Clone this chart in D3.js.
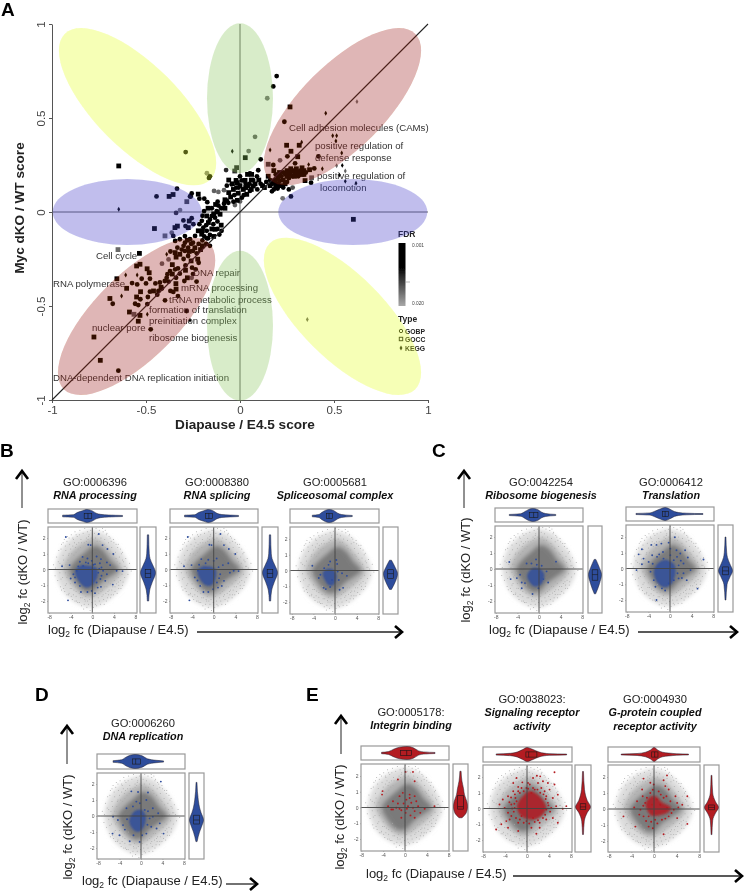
<!DOCTYPE html>
<html>
<head>
<meta charset="utf-8">
<script src="https://cdn.jsdelivr.net/npm/d3@7/dist/d3.min.js"></script>
<style>
  html, body { margin: 0; padding: 0; background: #fff; }
  svg { display: block; font-family: "Liberation Sans", Arial, sans-serif; }
</style>
</head>
<body>
<svg id="fig" width="744" height="892"></svg>
<script>
// panel A, score pairs [x, y, fdr]; fdr left out means the darkest colour
const gobpPoints = [
  [0.195,0.723],[0.177,0.668],[0.145,0.605,0.014],[0.236,0.48],[0.08,0.4,0.012],[0.046,0.324,0.013],
  [0.11,0.28],[-0.074,0.223,0.006],[-0.289,0.319,0.003],[-0.176,0.206,0.015],[-0.165,0.181],
  [0.252,0.296],[0.417,0.296],[0.213,0.275,0.012],[0.293,0.259],[0.177,0.25],[0.395,0.232],
  [0.378,0.156],[0.271,0.083],[0.227,0.073,0.014],[-0.444,0.083],[-0.335,0.124],[-0.266,0.083],
  [-0.34,-0.005,0.006],[-0.319,0.01,0.014],[-0.257,-0.033],[-0.301,-0.045],[-0.29,-0.075],
  [-0.248,-0.065],[-0.216,-0.065],[-0.363,-0.11,0.012],[-0.355,-0.127],
  [-0.138,0.112,0.012],[-0.115,0.107,0.013],[-0.085,0.116,0.012],[-0.027,0.037,0.012],[0,0.056,0.012],
  [-0.257,0.099],[-0.262,0.082],[-0.216,0.071],[-0.19,0.071],[-0.174,0.052],[-0.119,0.055],
  [-0.115,0.034],[-0.085,0.044],[-0.062,0.049],[-0.035,0.055],[0.01,0.076],[0.053,0.112],
  [0.092,0.12],[-0.044,0.147],[0.01,0.168],[0.053,0.205],[0.097,0.222],[-0.008,0.13],[0.044,0.138],
  [-0.191,0.005],[-0.15,-0.021],[-0.203,-0.047],[-0.124,0.005],[-0.133,-0.03],[-0.142,-0.065],
  [-0.195,-0.083],[-0.177,-0.1],[-0.098,-0.1],[-0.16,-0.122],[-0.239,-0.127],
  [-0.16,0.19],[0.17,0.15],[0.19,0.2],[0.22,0.19],[0.24,0.2],[0.27,0.2],[0.29,0.21],[0.32,0.22],
  [0.35,0.21],[0.16,0.17],[0.19,0.145],[0.21,0.165],[0.23,0.13],[0.25,0.16],[0.14,0.16],[0.31,0.19],
  [0.26,0.18],[0.2,0.125],[0.17,0.11],[0.26,0.12],[0.28,0.13,0.01],
  [-0.2,-0.02],[-0.15,0.02],[-0.1,0.02],[-0.07,0.06],[-0.03,0.09],[0.02,0.09],[0.05,0.15],[0.07,0.17],
  [0.09,0.19],[0.11,0.15],[0.03,0.15],[-0.02,0.13],[-0.07,0.14],[0,0.19],[-0.16,-0.04],[-0.12,-0.05],
  [-0.12,-0.09],[-0.18,-0.07],[-0.11,-0.12],[-0.17,-0.14],[-0.19,-0.13],[0.19,0.17],[0.23,0.21],[0.27,0.22],
  [0.21,0.14],[0.18,0.12],[0.32,0.2],[0.28,0.19],
  [-0.3,-0.18],[-0.26,-0.17],[-0.22,-0.17],[-0.18,-0.17],[-0.23,-0.22],[-0.31,-0.2],[-0.3,-0.25],[-0.22,-0.27],
  [-0.33,-0.3],[-0.25,-0.33],[-0.34,-0.35],[-0.38,-0.37],[-0.44,-0.44],[-0.37,-0.42],
  [-0.574,-0.378],[-0.547,-0.385],[-0.523,-0.355],[-0.5,-0.38],[-0.479,-0.355],[-0.677,-0.488],
  [-0.53,-0.464],[-0.558,-0.488],[-0.541,-0.495],[-0.493,-0.49],[-0.479,-0.424],[-0.49,-0.452],
  [-0.475,-0.624],[-0.647,-0.844],[-0.45,-0.38],[-0.426,-0.375],[-0.4,-0.367],[-0.386,-0.331],
  [-0.372,-0.314],[-0.434,-0.42],[-0.416,-0.407],[-0.39,-0.35],[-0.345,-0.305],[-0.32,-0.328],
  [-0.355,-0.425],[-0.33,-0.447],[-0.399,-0.47],[-0.284,-0.527],[-0.257,-0.35,0.012],[-0.231,-0.37],
  [-0.296,-0.367],[-0.255,-0.296],[-0.29,-0.284],[-0.236,-0.305],[-0.293,-0.207],[-0.333,-0.19],
  [-0.276,-0.19],[-0.25,-0.207],[-0.276,-0.234],[-0.2,-0.151],[-0.25,-0.163],[-0.176,-0.14],
  [-0.16,-0.18],[-0.293,-0.163],[-0.415,-0.275,0.012],[-0.38,-0.252,0.012],[-0.37,-0.21],
  [-0.345,-0.154],[-0.32,-0.145],[-0.293,-0.128],[-0.266,-0.145]
];
const goccPoints = [
  [0.266,0.559],[0.028,0.289],[-0.018,0.236,0.005],[-0.645,0.245],[0.248,0.355],[0.315,0.355],
  [0.271,0.323],[0.307,0.294],[0.15,0.254,0.008],[0.346,0.167],[0.381,0.182,0.012],[0.603,-0.039],
  [-0.283,0.055,0.009],[-0.377,0.083],[-0.356,0.093],[-0.27,-0.048],[-0.333,-0.075],[-0.275,-0.083],
  [-0.346,-0.083],[-0.455,-0.088],[-0.399,-0.127,0.012],
  [-0.222,0.095],[-0.08,0.065],[-0.014,0.062],[0.036,0.094],[0.071,0.138],[-0.014,0.156],[0.027,0.168],
  [0.062,0.2],[-0.021,0.168],[0.018,0.12],[-0.035,0.12],[-0.06,0.103],[-0.028,0.218,0.006],
  [-0.177,-0.021],[-0.106,-0.012],[-0.168,-0.056],[-0.222,-0.1],[-0.133,-0.092],[-0.204,-0.118],
  [0.18,0.22],[0.2,0.18],[0.21,0.21],[0.23,0.17],[0.25,0.22],[0.26,0.21],[0.28,0.22],[0.3,0.23],
  [0.31,0.21],[0.34,0.22],[0.33,0.2],[0.37,0.225],[0.18,0.165],[0.2,0.15],[0.22,0.14],[0.24,0.15],
  [0.15,0.19],[0.13,0.13],[0.27,0.23],[0.29,0.19],[0.33,0.235],
  [-0.17,0.02],[-0.13,0.04],[-0.08,0.02],[-0.05,0.08],[-0.01,0.1],[0.03,0.13],[0.06,0.12],[0.08,0.15],
  [0.1,0.17],[0.12,0.14],[0.06,0.17],[0,0.14],[-0.04,0.15],[-0.06,0.17],[0.04,0.2],[-0.14,-0.01],
  [-0.1,-0.07],[-0.15,-0.09],[-0.2,-0.1],[-0.14,-0.13],[-0.12,0],[0.21,0.19],[0.25,0.19],[0.19,0.13],
  [0.16,0.14],[0.3,0.2],[0.34,0.2],
  [-0.28,-0.15],[-0.24,-0.19],[-0.2,-0.18],[-0.27,-0.21],[-0.21,-0.2],[-0.34,-0.24],[-0.26,-0.26],[-0.36,-0.28],
  [-0.29,-0.31],[-0.28,-0.35],[-0.36,-0.33],[-0.42,-0.4],[-0.46,-0.42],[-0.34,-0.41],
  [-0.649,-0.2,0.013],[-0.535,-0.22],[-0.55,-0.287],[-0.532,-0.278],[-0.655,-0.355],[-0.494,-0.302],
  [-0.483,-0.323],[-0.603,-0.406],[-0.692,-0.46],[-0.529,-0.424],[-0.55,-0.452],[-0.588,-0.532],
  [-0.532,-0.55],[-0.564,-0.544,0.011],[-0.541,-0.581],[-0.777,-0.665],[-0.743,-0.789],
  [-0.341,-0.381],[-0.345,-0.216],[-0.32,-0.225],[-0.225,-0.251]
];
const keggPoints = [
  [-0.041,0.323],[0.622,0.587,0.014],[0.456,0.525],[0.493,0.406],[0.514,0.406],[0.51,0.378],[0.16,0.33],
  [0.328,0.371],[0.541,0.314],[0.365,0.252],[0.438,0.23],[0.514,0.246,0.013],[0.544,0.248],
  [0.56,0.218,0.012],[0.528,0.197],[0.617,0.153],[0.56,0.163],[-0.645,0.015],[-0.608,-0.335],
  [-0.547,-0.335],[-0.63,-0.447],[-0.493,-0.544],[-0.266,-0.576],[-0.39,-0.225],[0.358,-0.572,0.012]
];

// shared grey cloud of the small scatter panels, log2 fc pairs
const cloudOuter = [[-6.8,0.1],[-6,1.1],[-4.6,1.75],[-2.5,2.25],[0,2.5],[2.5,2.2],[4.6,1.5],[6,0.8],[6.8,-0.1],[6,-0.9],[4.5,-1.5],[2.5,-2.05],[0,-2.4],[-2.5,-2.2],[-4.6,-1.7],[-6,-1]];
const cloudMid = [[-5.4,0.05],[-4.6,0.75],[-3.2,1.35],[-1.5,1.75],[0.3,2],[2,1.7],[3.7,1.05],[5.2,0.3],[5.6,-0.1],[4.5,-0.65],[3,-1.1],[1.2,-1.55],[-0.5,-1.8],[-2.2,-1.55],[-3.8,-1]];
const cloudCore = [[-4.2,0],[-3,0.6],[-1.5,1.05],[0.3,1.5],[1.9,1.25],[3.3,0.6],[4.8,0],[3.3,-0.45],[1.6,-0.85],[0,-1.4],[-1.4,-1.4],[-3,-0.85]];
const cloudSpecks = [
  [-7.2,0.3],[-6.9,-0.4],[-6.6,0.8],[-6.4,-0.7],[-6.2,1.2],[-6,0.4],[-5.9,-1.1],[-5.7,1.6],[-5.5,-0.5],[-5.4,0.9],
  [-5.2,1.9],[-5.1,-1.4],[-4.9,1.2],[-4.8,-0.9],[-4.6,2.1],[-4.5,0.6],[-4.4,-1.6],[-4.2,1.6],[-4.1,-1.2],[-3.9,2.2],
  [-3.8,1],[-3.7,-1.9],[-3.5,1.9],[-3.4,-1.3],[-3.2,2.4],[-3.1,1.4],[-3,-1.7],[-2.8,2.1],[-2.7,-2.1],[-2.5,1.7],
  [-2.4,-1.5],[-2.3,2.5],[-2.1,1.9],[-2,-2.3],[-1.9,-1.8],[-1.7,2.3],[-1.6,-2.5],[-1.4,2.6],[-1.3,-2],[-1.1,2],
  [-1,-2.4],[-0.9,2.4],[-0.7,-2.2],[-0.6,2.2],[-0.4,-2.6],[-0.3,2.5],[-0.1,-2.1],[0.1,2.7],[0.2,-2.4],[0.4,2.3],
  [0.5,-2],[0.7,2.6],[0.8,-2.3],[1,2.2],[1.1,-1.8],[1.3,2.5],[1.5,-2.2],[1.6,2],[1.8,-1.7],[2,2.4],
  [2.1,-1.9],[2.3,1.9],[2.5,-1.5],[2.6,2.2],[2.8,-1.8],[3,1.7],[3.1,-1.3],[3.3,2],[3.5,-1.6],[3.6,1.4],
  [3.8,-1.1],[4,1.7],[4.2,-1.4],[4.3,1.1],[4.5,-0.9],[4.7,1.4],[4.9,-1.2],[5,0.8],[5.2,-0.7],[5.4,1],
  [5.6,-1],[5.8,0.5],[6,-0.5],[6.2,0.7],[6.4,0.1],[6.6,-0.3],[6.9,0.4],[7.2,-0.1],[-6.8,0.1],[-6,-0.2],
  [-5.6,0.3],[-5,-0.2],[-4.7,-0.5],[-4.3,1],[-4,-0.9],[-3.6,1.5],[-3.3,-0.9],[-3,1.1],[-2.6,-1.2],[-2.2,1.4],
  [-1.8,-1.5],[-1.5,1.7],[-1.2,-1.7],[-0.8,1.9],[-0.5,-1.9],[-0.2,2],[0.3,-1.7],[0.6,2],[1.2,-1.5],[1.4,1.8],
  [1.9,-1.3],[2.2,1.6],[2.7,-1.1],[2.9,1.3],[3.4,-0.9],[3.7,1],[4.1,-0.7],[4.4,0.7],[4.8,-0.5],[5.1,0.4],
  [5.5,-0.3],[5.9,0.2],[-5.3,0.6],[-4.9,0.3],[-4.5,-0.4],[-4.2,-0.2],[-3.9,0.5],[-3.7,-0.7],[-3.4,0.9],[-3.1,-1.1],
  [-2.9,1.6],[-2.6,1.3],[-2.3,-1],[-2,1.7],[-1.7,-1.3],[-1.4,-1.9],[-1.1,1.8],[-0.7,2.1],[-0.3,-1.6],[0.1,1.9],
  [0.4,-1.5],[0.9,1.8],[1.6,-1.4],[1.7,1.5],[2.3,-1.1],[2.4,1.4],[3,-0.8],[3.2,1],[3.9,0.9],[4.6,0.5],
  [-5.8,1.3],[-5.4,1.7],[-5,1.5],[-4.7,1.8],[-4.3,2],[-4,1.3],[-3.6,2],[-3.3,1.7],[-3,2.2],[-2.4,2.2],
  [-5.7,-1.3],[-5.3,-1.2],[-5,-1],[-4.7,-1.6],[-4.3,-1.5],[-3.9,-1.7],[-3.5,-1.6],[-3.2,-2],[-2.9,-2],[-2.4,-2.1],
  [5.6,1.1],[5.2,1.3],[4.8,1.6],[4.4,1.6],[3.9,1.9],[3.5,1.8],[3.1,2.1],[2.7,2.3],[2.4,2.5],[1.9,2.6],
  [5.7,-0.8],[5.3,-1.2],[4.9,-1],[4.6,-1.5],[4.2,-1.1],[3.9,-1.6],[3.4,-1.8],[3,-1.6],[2.6,-2],[2.2,-2.2],
  [-6.3,0.5],[-5.8,-0.6],[-5.2,0.1],[-4.6,0.3],[-4.4,0.9],[-3.8,-1.2],[-3,-1.4],[-2.2,-1.8],[-1.5,-2.2],[-0.9,-2],
  [6.1,0.2],[5.6,0.6],[5.3,0.1],[4.8,-0.8],[4.4,-0.4],[3.6,-1.3],[2.9,-1.4],[2,-1.6],[1.3,-2],[0.6,-2.2]
];

// panel B
const rnaProcessingPts = [[-4.9,2.06],[1.2,2.25],[-0.75,1.57],[-0.3,1.55],[1.9,1.55],[2.8,1.3],[3.9,0.98],[-1.8,0.8],[-0.9,0.7],[0.8,0.83],[1.6,0.66],[-2.3,0.49],[-5.6,0.21],[-4.2,0.28],[3.3,0.28],[2.7,0.45],[1.4,0.4],[0.5,0.34],[5.6,-0.1],[4.5,-0.08],[3.8,-0.96],[-4,-0.57],[-4.5,-1.96],[-2.1,-1.43],[-0.9,-1.43],[1,-1.15],[1.6,-1.1],[0.8,-0.83],[2.4,-0.72],[1.7,-0.4],[2.7,-0.3],[-3.2,-0.83],[-2.3,-1.04],[-0.1,-1.36],[0.5,-1.5],[1.1,-0.2],[2,-0.08],[-0.75,0.4],[-2.9,-0.08],[-3.5,-0.3],[1.7,0.13],[-1.7,0.23],[-0.1,0.55],[-2.6,0.2],[-1.2,0.45],[0.2,0.3],[1.3,0.05],[1.5,-0.6],[-3.2,-0.5]];
const rnaProcessingCore = [[-3.2,-0.1],[-2.2,0.25],[-0.8,0.25],[0.8,0.1],[1,-0.4],[0,-1],[-1.2,-1.15],[-2.4,-0.8]];
const rnaProcessingTop = [[-5.5,0.05],[-3.5,0.1],[-2.8,0.4],[-1.8,0.75],[-1,1],[0,0.7],[0.7,0.3],[1.5,0.14],[3,0.07],[5.6,0.03]];
const rnaProcessingRight = [[-2,0.03],[-1.3,0.12],[-0.8,0.45],[-0.2,1],[0.3,0.5],[0.7,0.15],[1,0.08],[2.2,0.03]];
const rnaProcessingBoxes = [[-1.5,-0.8,-0.1],[-0.5,-0.25,0]];

const rnaSplicingPts = [[-4.8,2.06],[1.25,2.25],[-0.8,1.57],[-0.4,1.55],[1.9,1.55],[2.8,1.3],[4,0.98],[-2.3,0.66],[-1,0.62],[0.55,0.7],[-5.5,0.21],[-4.1,0.28],[1.7,0.28],[2.7,0.4],[4.6,-0.1],[3.7,-0.08],[-4.5,-1.96],[-1.9,-1.43],[-1,-1.43],[0.8,-1.15],[1.5,-1.04],[0.6,-0.83],[1.9,-0.72],[-3.5,-0.5],[-2.5,-1.04],[-0.1,-1.25],[1.2,-0.3],[3,-0.2],[-2.9,-0.08],[0,0.55],[-2.7,0.3],[-1.5,0.4],[0.9,0.15],[1,-0.55],[-3,-0.7]];
const rnaSplicingCore = [[-3,-0.1],[-2,0.2],[-0.8,0.2],[0.4,0],[0.4,-0.5],[-0.4,-1],[-1.5,-1],[-2.4,-0.7]];
const rnaSplicingTop = [[-5.4,0.05],[-3.5,0.1],[-2.8,0.4],[-1.8,0.75],[-1,1],[0,0.65],[0.6,0.28],[1.5,0.12],[3,0.06],[4.6,0.03]];
const rnaSplicingRight = [[-2,0.03],[-1.3,0.12],[-0.8,0.45],[-0.2,1],[0.3,0.5],[0.7,0.15],[1,0.08],[2.2,0.03]];
const rnaSplicingBoxes = [[-1.5,-0.9,-0.2],[-0.5,-0.25,0]];

const spliceosomePts = [[-4.2,0.3],[-0.9,0.57],[0.4,0.42],[0.25,0.67],[-2,0.15],[-2.7,-0.27],[-3,-0.48],[-2.1,-1.1],[-1.7,-1.18],[-0.9,-1.05],[0.85,-1.22],[1.5,-1.1],[0.7,-0.6],[1.3,-0.17],[2.2,-0.34],[0.5,-0.06],[-1.2,0.36],[-0.55,-0.6]];
const spliceosomeCore = [[-2.3,-0.15],[-1.4,0.1],[-0.3,0.05],[0.3,-0.3],[-0.2,-0.9],[-1.1,-0.95],[-1.9,-0.6]];
const spliceosomeTop = [[-4.2,0.05],[-3,0.12],[-2.4,0.45],[-1.8,0.8],[-1.1,1],[-0.2,0.75],[0.5,0.3],[1.2,0.12],[3.2,0.03]];
const spliceosomeRight = [[-1.2,0.06],[-0.7,0.6],[-0.2,1],[0.2,0.55],[0.65,0.06]];
const spliceosomeBoxes = [[-1.6,-1.1,-0.5],[-0.5,-0.2,0.05]];

// panel C
const ribosomePts = [[-5.5,0.44],[-5.25,-0.63],[-3.2,-1.2],[-1.2,-1.56],[3.15,0.46],[-0.55,0.6],[-2.3,0.34],[-1.4,0.34],[0.5,0.2],[1.4,-0.15],[1.7,-0.84],[-0.1,-1.2],[-4.1,-0.57],[-3.2,-0.84],[0.8,-0.63],[-3.5,-0.36],[-0.4,0.27],[-2.6,-0.88]];
const ribosomeCore = [[-2.2,-0.4],[-1.2,0.05],[0.2,0],[1,-0.35],[0.4,-0.95],[-0.8,-1.1],[-1.8,-0.8]];
const ribosomeTop = [[-5.5,0.03],[-3.4,0.1],[-2.6,0.4],[-2,0.75],[-1.2,1],[-0.2,0.75],[0.5,0.3],[1.2,0.12],[3.1,0.03]];
const ribosomeRight = [[-1.55,0.04],[-0.9,0.6],[-0.35,1],[0.1,0.55],[0.6,0.05]];
const ribosomeBoxes = [[-1.8,-1,-0.2],[-0.7,-0.35,-0.05]];

const translationPts = [[-2.5,-2],[0.9,1.98],[-0.25,1.64],[-3.45,1.5],[-2.5,1.5],[-1.6,1.58],[-5.2,1.22],[-5.8,0.9],[-4.9,0.63],[-5.2,0.27],[-6.2,-0.1],[-3.95,0.42],[-3.3,0.84],[-2.4,0.74],[-1.3,1.05],[0.06,1.26],[1.2,1.16],[1.9,0.95],[2.8,1.16],[3.3,0.7],[6.2,0.57],[5.1,-1.28],[3.8,-0.1],[2.5,0.32],[1.3,0.74],[0.7,0.53],[1.6,0.2],[-2.7,-1.16],[-1.5,-1.26],[-0.9,-1.4],[-0.25,-0.95],[0.7,-0.74],[1.6,-0.63],[-3.6,-0.2],[-3,-0.74],[2.5,-0.3],[0.06,0.84],[-1.2,0.63],[3.1,-0.74],[2,0.5],[-3.2,0.3],[-2,0.9],[1.4,-0.3],[2.2,-0.6]];
const translationCore = [[-3,-0.2],[-2.2,0.35],[-0.8,0.55],[0.8,0.25],[1,-0.35],[0.2,-1],[-1,-1.2],[-2.3,-0.9]];
const translationTop = [[-6.3,0.03],[-3.7,0.08],[-2.8,0.3],[-1.8,0.7],[-0.9,1],[0,0.65],[0.8,0.25],[1.6,0.12],[3,0.05],[6.1,0.02]];
const translationRight = [[-2,0.02],[-1,0.12],[-0.6,0.45],[-0.15,1],[0.3,0.5],[0.7,0.16],[1,0.08],[2,0.02]];
const translationBoxes = [[-1.4,-0.9,-0.3],[-0.4,-0.15,0.1]];

// panel D
const dnaReplicationPts = [[3.7,2.15],[1.3,1.47],[-1.8,1.54],[-0.55,1.5],[1,1],[-0.87,0.9],[-1.5,0.6],[-2.7,0.48],[2.2,0.48],[3.2,0.17],[-5.2,-0.04],[-4.3,-0.25],[-5.3,-1.1],[-4,-1.2],[-2.1,-1.58],[-0.25,-1.62],[4.2,-1.1],[1.9,-0.67],[3.5,-0.46],[1,-1.1],[2.9,-0.78],[-3.35,-0.57],[2.2,-0.04],[0.7,0.38],[1.6,-0.15],[-2.6,-0.2],[-3,-0.85],[-1.4,-1.2],[0.2,-1.2],[1.3,0.3],[-0.2,0.8],[1.2,-0.55]];
const dnaReplicationCore = [[-2.2,-0.3],[-1.2,0.3],[0,0.4],[0.9,0],[0.5,-0.7],[-0.5,-1],[-1.6,-0.8]];
const dnaReplicationTop = [[-5.2,0.05],[-3.6,0.14],[-2.8,0.5],[-2,0.85],[-1.1,1],[0.2,0.75],[1.2,0.25],[2.8,0.08],[4.2,0.03]];
const dnaReplicationRight = [[-1.6,0.03],[-1,0.3],[-0.6,0.7],[-0.25,1],[0.2,0.55],[0.5,0.32],[1,0.14],[2.1,0.02]];
const dnaReplicationBoxes = [[-1.6,-1,-0.1],[-0.5,-0.25,0.05]];

// panel E
const integrinPts = [[0.1,2.26],[1.46,2.26],[-1.3,1.78],[1.77,1.67],[-4.1,1.04],[-4.2,0.82],[-1,0.72],[0.85,0.82],[-0.4,0.93],[1.77,0.72],[-2.2,0.4],[-1.3,0.25],[0.25,0.5],[1.15,0.3],[2.07,0.4],[0.55,0.08],[1.46,-0.02],[2.4,0.08],[3.6,-0.08],[5.4,0.08],[-3.1,0.08],[-2.2,-0.13],[-0.67,-0.17],[0.12,-0.34],[1,-0.5],[1.77,-0.65],[2.8,-0.34],[-0.67,-0.65],[-2.5,-0.13],[-1.6,-0.02],[0.85,0.6],[-1,-0.08],[-0.25,0.25],[1.77,-0.23],[0.35,-0.08]];
const integrinCore = [];
const integrinTop = [[-4.3,0.04],[-3,0.12],[-2,0.5],[-1,0.85],[0.4,1],[1.5,0.75],[2.5,0.2],[3.4,0.08],[5.5,0.03]];
const integrinRight = [[-0.65,0.12],[-0.3,0.8],[0.05,1],[0.4,0.85],[0.8,0.45],[1.2,0.3],[1.7,0.1],[2.3,0.03]];
const integrinBoxes = [[-0.8,0.3,1.2],[-0.1,0.05,0.75]];

const signalingPts = [[5,2.3],[2.4,2.04],[1.1,1.94],[1.8,2.08],[-1.9,1.94],[-2.5,1.62],[-0.85,1.66],[-1.6,1.37],[0.5,1.52],[2.9,1.73],[3.8,1.62],[5,1.52],[2.6,1.3],[1.4,1.2],[-0.1,1.3],[-2.5,1.1],[-3.45,0.78],[-4.4,0.57],[-2.1,0.67],[-1.3,0.99],[0.8,0.99],[4.1,1.2],[5.6,0.88],[4.7,0.67],[3.5,0.78],[6.5,-0.02],[7.15,0.15],[-5,0.25],[-4.06,0.04],[-2.85,0.25],[-3.45,-0.27],[-5.6,-1.33],[-4.67,-1],[-3.76,-0.8],[-2.85,-0.48],[-3.45,-1.22],[-1.6,-0.9],[-1,-0.48],[1.7,-1.6],[0.8,-1.22],[2.3,-0.9],[3.5,-0.7],[4.7,-0.6],[5.6,-0.9],[-0.1,-0.8],[1.1,-0.6],[-2.25,0.04],[4.4,0.04],[3.5,-0.06],[5.3,0.15],[-1.9,0.46],[-1,1.3],[2,1.62],[3.2,1.1],[3.8,0.36],[-3.15,-0.7],[-1.6,-1.43],[2.3,-1.22],[0.18,1.62],
  [-2.9,0.7],[-3.2,0.4],[-2.2,0.9],[-1.6,1.1],[-0.6,1.1],[0.2,1.25],[1.1,1.3],[1.9,1.2],[2.4,1],[3,0.9],[3.4,0.6],[3.9,0.2],[4.2,-0.2],[3.3,-0.4],[2.9,-0.6],[2,-0.75],[1.4,-0.85],[0.4,-0.95],[-0.6,-0.9],[-1.3,-0.7],[-2,-0.6],[-2.4,-0.2],[-2.7,0],[-2.3,0.3]];
const signalingCore = [[-1.8,0.2],[-1,0.7],[0.3,1.1],[1.5,1],[3,0.5],[3.5,0],[2.5,-0.5],[1,-0.7],[-0.5,-0.6],[-1.5,-0.3]];
const signalingTop = [[-5.6,0.03],[-3,0.08],[-1.8,0.22],[-0.8,0.6],[0,1],[1,0.65],[2.2,0.22],[4,0.05],[7.2,0.02]];
const signalingRight = [[-1.65,0.02],[-0.8,0.08],[-0.25,0.45],[0.1,1],[0.5,0.45],[1.2,0.1],[2.35,0.02]];
const signalingBoxes = [[-0.2,0.3,1.8],[-0.05,0.1,0.3]];

const gpcrPts = [[2.3,2.1],[-1.85,1.9],[1.7,1.8],[-0.65,1.64],[-2.1,1.22],[-0.05,1.53],[2.6,1.22],[2,1.43],[5.9,0.8],[3.8,0.8],[5,0.27],[4.1,0.38],[-5.4,-0.46],[-3.3,-1.1],[-0.95,-1.1],[-0.2,-1.2],[1.7,-1.58],[5.9,-0.93],[4.1,-0.57],[2.6,-0.46],[1.4,-0.67],[-2.4,-0.04],[-1.55,0.38],[-3,0.48],[-1.25,0.7],[-0.65,1],[0.83,1.1],[1.7,0.7],[2.9,0.48],[3.5,-0.04],[2.3,0.06],[-0.95,-0.46],[-1.85,-0.46],[0.2,-0.67],[0.5,0.6],[-0.35,0.27],[1.1,0.27],
  [-2,0.8],[-1.9,0.2],[-0.2,1.2],[1.2,0.9],[2.2,0.8],[3.1,-0.25],[2,-0.6],[0.6,-0.9],[-0.5,-0.8],[-1.4,-0.75],[-2.6,-0.35],[4.3,0.1],[-3.5,0.1]];
const gpcrCore = [[-1.5,0.3],[-0.5,0.8],[0.3,0.8],[1.5,0.4],[3,0.1],[2.5,-0.2],[0.8,-0.4],[-0.5,-0.4]];
const gpcrTop = [[-5.8,0.02],[-3,0.06],[-1.5,0.2],[-0.6,0.55],[0,1],[0.7,0.5],[1.5,0.2],[2.6,0.1],[4,0.04],[6.1,0.02]];
const gpcrRight = [[-1.6,0.02],[-0.7,0.08],[-0.25,0.45],[0.1,1],[0.45,0.45],[1,0.08],[2.1,0.02]];
const gpcrBoxes = [[-0.4,0.1,0.7],[-0.05,0.1,0.25]];

const BLUE = "#2f4d9c";
const RED = "#b31b20";
const AXIS_TICKS_X = [-8, -4, 0, 4, 8];
const AXIS_TICKS_Y = [-2, -1, 0, 1, 2];
const SCORE_TICKS = [-1, -0.5, 0, 0.5, 1];

// frame, top violin and right violin of each small panel, in page pixels
const panels = [
  { title: ["GO:0006396"], name: ["RNA processing"], cx: 95, by: 486, color: BLUE, pts: rnaProcessingPts, core: rnaProcessingCore, top: rnaProcessingTop, right: rnaProcessingRight, boxes: rnaProcessingBoxes, f: [48,527,137,613], t: [509,523], r: [140,156], zx: 92.3, u: 5.4, y2: 538, ym2: 601 },
  { title: ["GO:0008380"], name: ["RNA splicing"], cx: 217, by: 486, color: BLUE, pts: rnaSplicingPts, core: rnaSplicingCore, top: rnaSplicingTop, right: rnaSplicingRight, boxes: rnaSplicingBoxes, f: [170,527,258,613], t: [509,523], r: [262,278], zx: 213.7, u: 5.4, y2: 538, ym2: 601 },
  { title: ["GO:0005681"], name: ["Spliceosomal complex"], cx: 335, by: 486, color: BLUE, pts: spliceosomePts, core: spliceosomeCore, top: spliceosomeTop, right: spliceosomeRight, boxes: spliceosomeBoxes, f: [290,527,379,614], t: [509,523], r: [383,398], zx: 335, u: 5.4, y2: 539, ym2: 602 },
  { title: ["GO:0042254"], name: ["Ribosome biogenesis"], cx: 541, by: 486, color: BLUE, pts: ribosomePts, core: ribosomeCore, top: ribosomeTop, right: ribosomeRight, boxes: ribosomeBoxes, f: [495,526,583,613], t: [508,522], r: [588,602], zx: 539, u: 5.4, y2: 537, ym2: 601 },
  { title: ["GO:0006412"], name: ["Translation"], cx: 671, by: 486, color: BLUE, pts: translationPts, core: translationCore, top: translationTop, right: translationRight, boxes: translationBoxes, f: [626,525,714,612], t: [507,521], r: [718,733], zx: 670, u: 5.4, y2: 537, ym2: 600 },
  { title: ["GO:0006260"], name: ["DNA replication"], cx: 143, by: 727, color: BLUE, pts: dnaReplicationPts, core: dnaReplicationCore, top: dnaReplicationTop, right: dnaReplicationRight, boxes: dnaReplicationBoxes, f: [97,773,185,859], t: [754,769], r: [189,204], zx: 141, u: 5.37, y2: 784, ym2: 848 },
  { title: ["GO:0005178:"], name: ["Integrin binding"], cx: 411, by: 716, color: RED, pts: integrinPts, core: integrinCore, top: integrinTop, right: integrinRight, boxes: integrinBoxes, f: [361,764,449,851], t: [746,760], r: [453,468], zx: 405, u: 5.46, y2: 776, ym2: 839 },
  { title: ["GO:0038023:"], name: ["Signaling receptor", "activity"], cx: 532, by: 703, color: RED, pts: signalingPts, core: signalingCore, top: signalingTop, right: signalingRight, boxes: signalingBoxes, f: [483,765,572,852], t: [747,762], r: [575,591], zx: 527, u: 5.5, y2: 777, ym2: 840 },
  { title: ["GO:0004930"], name: ["G-protein coupled", "receptor activity"], cx: 655, by: 703, color: RED, pts: gpcrPts, core: gpcrCore, top: gpcrTop, right: gpcrRight, boxes: gpcrBoxes, f: [608,765,700,852], t: [747,762], r: [704,719], zx: 654, u: 5.65, y2: 777, ym2: 841 }
];

const main = function() {
  const svg = d3.select("#fig");
  const defs = svg.append("defs");
  const addBlur = (id, dev) =>
    defs.append("filter").attr("id", id)
      .attr("x", "-20%").attr("y", "-20%").attr("width", "140%").attr("height", "140%")
      .append("feGaussianBlur").attr("stdDeviation", dev);
  addBlur("soft", 0.35);
  addBlur("cloud", 2);
  addBlur("tiny", 0.8);

  const grad = defs.append("linearGradient").attr("id", "fdrRamp")
    .attr("x1", 0).attr("y1", 0).attr("x2", 0).attr("y2", 1);
  grad.append("stop").attr("offset", "0%").attr("stop-color", "#000");
  grad.append("stop").attr("offset", "38%").attr("stop-color", "#000");
  grad.append("stop").attr("offset", "100%").attr("stop-color", "#a8a8a8");

  const root = svg.append("g").attr("filter", "url(#soft)");

  drawScorePanel(root);
  panels.forEach(p => drawSmallPanel(root, p));
  drawHeadings(root);
};

// ---------- panel A ----------
const drawScorePanel = function(root) {
  const x = d3.scaleLinear().domain([-1, 1]).range([52, 428]);
  const y = d3.scaleLinear().domain([-1, 1]).range([400, 24]);
  const fdrColor = d3.scaleLinear().domain([0.001, 0.02]).range(["#000000", "#a6a6a6"]);
  const g = root.append("g");

  const axisStyle = sel => {
    sel.selectAll("path,line").attr("stroke", "#555").attr("stroke-width", 1);
    sel.selectAll("text").attr("fill", "#444").style("font-size", "11.5px").style("font-family", "inherit");
  };
  g.append("g").attr("transform", "translate(0,400)")
    .call(d3.axisBottom(x).tickValues(SCORE_TICKS).tickFormat(String).tickSize(3).tickSizeOuter(0))
    .call(axisStyle);
  g.append("g").attr("transform", "translate(52,0)")
    .call(d3.axisLeft(y).tickValues(SCORE_TICKS).tickFormat(String).tickSize(3).tickSizeOuter(0))
    .call(axisStyle)
    .selectAll("text")
    .attr("transform", "rotate(-90)")
    .attr("x", 0).attr("y", -7).attr("dy", 0)
    .attr("text-anchor", "middle");

  g.append("line").attr("x1", x(-1)).attr("x2", x(1)).attr("y1", y(0)).attr("y2", y(0)).attr("stroke", "#666").attr("stroke-width", 1);
  g.append("line").attr("x1", x(0)).attr("x2", x(0)).attr("y1", y(-1)).attr("y2", y(1)).attr("stroke", "#666").attr("stroke-width", 1);

  const square = d3.symbol().type(d3.symbolSquare).size(23);
  const star = d3.symbol().type(d3.symbolDiamond).size(7);
  g.selectAll("circle.gobp").data(gobpPoints).enter().append("circle")
    .attr("cx", d => x(d[0])).attr("cy", d => y(d[1])).attr("r", 2.4)
    .attr("fill", d => fdrColor(d[2] || 0.001));
  g.selectAll("path.gocc").data(goccPoints).enter().append("path")
    .attr("d", square).attr("transform", d => `translate(${x(d[0])},${y(d[1])})`)
    .attr("fill", d => fdrColor(d[2] || 0.001));
  g.selectAll("path.kegg").data(keggPoints).enter().append("path")
    .attr("d", star).attr("transform", d => `translate(${x(d[0])},${y(d[1])})`)
    .attr("fill", d => fdrColor(d[2] || 0.001));

  g.append("line").attr("x1", x(-1)).attr("x2", x(1)).attr("y1", y(-1)).attr("y2", y(1)).attr("stroke", "#222").attr("stroke-width", 1.1);

  const labels = [
    ["Cell adhesion molecules (CAMs)", 289, 131], ["positive regulation of", 315, 149], ["defense response", 315, 161],
    ["positive regulation of", 317, 179], ["locomotion", 320, 191], ["Cell cycle", 96, 259], ["RNA polymerase", 53, 287],
    ["DNA repair", 193, 276], ["mRNA processing", 181, 291], ["tRNA metabolic process", 169, 303],
    ["formation of translation", 149, 313], ["preinitiation complex", 149, 324], ["nuclear pore", 92, 331],
    ["ribosome biogenesis", 149, 341], ["DNA-dependent DNA replication initiation", 53, 381]
  ];
  g.selectAll("text.term").data(labels).enter().append("text")
    .attr("class", "term")
    .attr("x", d => d[1]).attr("y", d => d[2])
    .attr("font-size", 9.65).attr("fill", "#333")
    .text(d => d[0]);

  // legend goes under the ellipses as in the figure
  const lg = g.append("g");
  lg.append("text").attr("x", 398).attr("y", 237).attr("font-size", 8.5).attr("font-weight", "bold").attr("fill", "#222").text("FDR");
  lg.append("rect").attr("x", 398.5).attr("y", 243).attr("width", 7).attr("height", 63).attr("fill", "url(#fdrRamp)");
  lg.append("line").attr("x1", 405).attr("x2", 410).attr("y1", 282).attr("y2", 282).attr("stroke", "#999").attr("stroke-width", 0.7);
  lg.append("text").attr("x", 412).attr("y", 247).attr("font-size", 4.8).attr("fill", "#444").text("0.001");
  lg.append("text").attr("x", 412).attr("y", 305).attr("font-size", 4.8).attr("fill", "#444").text("0.020");
  lg.append("text").attr("x", 398).attr("y", 322).attr("font-size", 8.5).attr("font-weight", "bold").attr("fill", "#222").text("Type");
  [["GOBP", 331], ["GOCC", 339], ["KEGG", 348]].forEach(d => {
    lg.append("text").attr("x", 405).attr("y", d[1] + 2.5).attr("font-size", 6.8).attr("font-weight", "bold").attr("fill", "#222").text(d[0]);
  });
  lg.append("circle").attr("cx", 401).attr("cy", 331).attr("r", 1.7).attr("fill", "none").attr("stroke", "#222").attr("stroke-width", 1);
  lg.append("rect").attr("x", 399.3).attr("y", 337.3).attr("width", 3.4).attr("height", 3.4).attr("fill", "none").attr("stroke", "#222").attr("stroke-width", 1);
  lg.append("path").attr("d", star).attr("transform", "translate(401,348)").attr("fill", "#222");

  // translucent petals lie over the points and the labels
  const petals = [
    { c: [0.545, 0.56], a: 103, b: 42, rot: -45, fill: "rgb(156,25,20)" },
    { c: [-0.55, -0.555], a: 103, b: 42, rot: -45, fill: "rgb(156,25,20)" },
    { c: [-0.545, 0.56], a: 103, b: 42, rot: 45, fill: "rgb(228,255,25)" },
    { c: [0.545, -0.555], a: 103, b: 42, rot: 45, fill: "rgb(228,255,25)" },
    { c: [0, 0.605], a: 33, b: 75, rot: 0, fill: "rgb(134,197,88)" },
    { c: [0, -0.605], a: 33, b: 75, rot: 0, fill: "rgb(134,197,88)" },
    { c: [-0.6, 0], a: 74.5, b: 33, rot: 0, fill: "rgb(59,56,200)" },
    { c: [0.6, 0], a: 74.5, b: 33, rot: 0, fill: "rgb(59,56,200)" }
  ];
  g.selectAll("ellipse").data(petals).enter().append("ellipse")
    .attr("rx", d => d.a).attr("ry", d => d.b)
    .attr("transform", d => `translate(${x(d.c[0])},${y(d.c[1])}) rotate(${d.rot})`)
    .attr("fill", d => d.fill).attr("fill-opacity", 0.32);

  g.append("text").attr("x", 245).attr("y", 429).attr("text-anchor", "middle")
    .attr("font-size", 13.6).attr("font-weight", "bold").attr("fill", "#222").text("Diapause / E4.5 score");
  g.append("text").attr("transform", "translate(24,208) rotate(-90)").attr("text-anchor", "middle")
    .attr("font-size", 13.6).attr("font-weight", "bold").attr("fill", "#222").text("Myc dKO / WT score");
};

// ---------- panels B to E ----------
const drawSmallPanel = function(root, p) {
  const [fx0, fy0, fx1, fy1] = p.f;
  const x = d3.scaleLinear().domain([-8, 8]).range([p.zx - 8 * p.u, p.zx + 8 * p.u]);
  const y = d3.scaleLinear().domain([-2, 2]).range([p.ym2, p.y2]);
  const g = root.append("g");

  const clipId = "clip" + p.zx.toString().replace(".", "_");
  d3.select("defs").append("clipPath").attr("id", clipId)
    .append("rect").attr("x", fx0).attr("y", fy0).attr("width", fx1 - fx0).attr("height", fy1 - fy0);

  const blob = d3.line().x(d => x(d[0])).y(d => y(d[1])).curve(d3.curveCatmullRomClosed);
  const plot = g.append("g").attr("clip-path", `url(#${clipId})`);
  plot.append("path").attr("d", blob(cloudOuter)).attr("fill", "#dcdcdc").attr("filter", "url(#cloud)");
  plot.append("path").attr("d", blob(cloudMid)).attr("fill", "#b4b4b4").attr("filter", "url(#cloud)");
  plot.append("path").attr("d", blob(cloudCore)).attr("fill", "#7a7a7a").attr("filter", "url(#cloud)");
  plot.selectAll("circle.speck").data(cloudSpecks).enter().append("circle")
    .attr("cx", d => x(d[0])).attr("cy", d => y(d[1])).attr("r", 0.5).attr("fill", "#aaa");

  if (p.core.length) {
    plot.append("path").attr("d", blob(p.core)).attr("fill", p.color).attr("fill-opacity", 0.85).attr("filter", "url(#tiny)");
  }
  plot.selectAll("circle.hit").data(p.pts).enter().append("circle")
    .attr("cx", d => x(d[0])).attr("cy", d => y(d[1])).attr("r", 0.95).attr("fill", p.color);

  plot.append("line").attr("x1", fx0).attr("x2", fx1).attr("y1", y(0)).attr("y2", y(0)).attr("stroke", "#444").attr("stroke-width", 0.9);
  plot.append("line").attr("x1", x(0)).attr("x2", x(0)).attr("y1", fy0).attr("y2", fy1).attr("stroke", "#444").attr("stroke-width", 0.9);

  const frame = (x0, y0, x1, y1) => g.append("rect")
    .attr("x", x0).attr("y", y0).attr("width", x1 - x0).attr("height", y1 - y0)
    .attr("fill", "none").attr("stroke", "#999").attr("stroke-width", 1.2);
  frame(fx0, fy0, fx1, fy1);
  frame(fx0, p.t[0], fx1, p.t[1]);
  frame(p.r[0], fy0, p.r[1], fy1);

  const tinyAxis = sel => {
    sel.select(".domain").remove();
    sel.selectAll("line").attr("stroke", "#777").attr("stroke-width", 0.4);
    sel.selectAll("text").attr("fill", "#555").style("font-size", "5px").style("font-family", "inherit");
  };
  g.append("g").attr("transform", `translate(0,${fy1})`)
    .call(d3.axisBottom(x).tickValues(AXIS_TICKS_X).tickFormat(String).tickSize(1).tickPadding(1))
    .call(tinyAxis);
  g.append("g").attr("transform", `translate(${fx0},0)`)
    .call(d3.axisLeft(y).tickValues(AXIS_TICKS_Y).tickFormat(String).tickSize(1).tickPadding(1.5))
    .call(tinyAxis);

  // top violin runs along the x scale, right violin along the y scale
  const topMid = (p.t[0] + p.t[1]) / 2;
  const topHalf = d3.scalePow().exponent(0.7).domain([0, 1]).range([0, (p.t[1] - p.t[0]) / 2 - 0.5]);
  const topArea = d3.area().x(d => x(d[0])).y0(d => topMid - topHalf(d[1])).y1(d => topMid + topHalf(d[1])).curve(d3.curveMonotoneX);
  g.append("path").attr("d", topArea(p.top)).attr("fill", p.color).attr("stroke", "#1c1c2c").attr("stroke-width", 0.5);

  const rightMid = (p.r[0] + p.r[1]) / 2;
  const rightHalf = d3.scalePow().exponent(0.7).domain([0, 1]).range([0, (p.r[1] - p.r[0]) / 2 - 0.5]);
  const rightArea = d3.area().y(d => y(d[0])).x0(d => rightMid - rightHalf(d[1])).x1(d => rightMid + rightHalf(d[1])).curve(d3.curveMonotoneY);
  g.append("path").attr("d", rightArea(p.right)).attr("fill", p.color).attr("stroke", "#1c1c2c").attr("stroke-width", 0.5);

  const [tb, rb] = p.boxes;
  g.append("rect").attr("x", x(tb[0])).attr("width", x(tb[2]) - x(tb[0])).attr("y", topMid - 2.6).attr("height", 5.2)
    .attr("fill", "none").attr("stroke", "#1a1a1a").attr("stroke-width", 0.6);
  g.append("line").attr("x1", x(tb[1])).attr("x2", x(tb[1])).attr("y1", topMid - 2.6).attr("y2", topMid + 2.6).attr("stroke", "#1a1a1a").attr("stroke-width", 0.6);
  g.append("rect").attr("y", y(rb[2])).attr("height", y(rb[0]) - y(rb[2])).attr("x", rightMid - 2.8).attr("width", 5.6)
    .attr("fill", "none").attr("stroke", "#1a1a1a").attr("stroke-width", 0.6);
  g.append("line").attr("y1", y(rb[1])).attr("y2", y(rb[1])).attr("x1", rightMid - 2.8).attr("x2", rightMid + 2.8).attr("stroke", "#1a1a1a").attr("stroke-width", 0.6);

  g.append("text").attr("x", p.cx).attr("y", p.by).attr("text-anchor", "middle")
    .attr("font-size", 11.2).attr("fill", "#222").text(p.title[0]);
  p.name.forEach((line, i) => {
    g.append("text").attr("x", p.cx).attr("y", p.by + 13 + i * 14.2).attr("text-anchor", "middle")
      .attr("font-size", 10.8).attr("font-weight", "bold").attr("font-style", "italic").attr("fill", "#111").text(line);
  });
};

const logLabel = function(g, text, px, py, rotate) {
  const t = g.append("text").attr("font-size", 13).attr("fill", "#222");
  if (rotate) {
    t.attr("transform", `translate(${px},${py}) rotate(-90)`).attr("text-anchor", "middle");
  } else {
    t.attr("x", px).attr("y", py);
  }
  t.append("tspan").text("log");
  t.append("tspan").attr("font-size", 8.5).attr("dy", 3).text("2");
  t.append("tspan").attr("dy", -3).text(" fc (" + text + ")");
};

const arrow = function(g, x0, y0, x1, y1, weight) {
  g.append("line").attr("x1", x0).attr("y1", y0).attr("x2", x1).attr("y2", y1).attr("stroke", "#222").attr("stroke-width", weight);
  const h = 7;
  const up = x0 === x1;
  const pts = up
    ? [[x1 - h + 1, y1 + h + 1], [x1, y1], [x1 + h - 1, y1 + h + 1]]
    : [[x1 - h, y1 - h + 1], [x1, y1], [x1 - h, y1 + h - 1]];
  g.append("path").attr("d", d3.line()(pts)).attr("fill", "none").attr("stroke", "#000").attr("stroke-width", 2.6);
};

const drawHeadings = function(root) {
  const g = root.append("g");
  [["A", 1, 16], ["B", 0, 457], ["C", 432, 457], ["D", 35, 701], ["E", 306, 701]].forEach(d => {
    g.append("text").attr("x", d[1]).attr("y", d[2]).attr("font-size", 19).attr("font-weight", "bold").attr("fill", "#000").text(d[0]);
  });

  logLabel(g, "dKO / WT", 27, 572, true);
  logLabel(g, "Diapause / E4.5", 48, 634, false);
  arrow(g, 22, 508, 22, 471, 1);
  arrow(g, 197, 632, 402, 632, 1.3);

  logLabel(g, "dKO / WT", 470, 570, true);
  logLabel(g, "Diapause / E4.5", 489, 634, false);
  arrow(g, 464, 508, 464, 471, 1);
  arrow(g, 638, 632, 737, 632, 1.3);

  logLabel(g, "dKO / WT", 72, 827, true);
  logLabel(g, "Diapause / E4.5", 82, 885, false);
  arrow(g, 67, 764, 67, 726, 1);
  arrow(g, 226, 884, 257, 884, 1.3);

  logLabel(g, "dKO / WT", 344, 817, true);
  logLabel(g, "Diapause / E4.5", 366, 878, false);
  arrow(g, 341, 754, 341, 716, 1);
  arrow(g, 513, 876, 742, 876, 1.3);
};

window.onload = main;
</script>
</body>
</html>
